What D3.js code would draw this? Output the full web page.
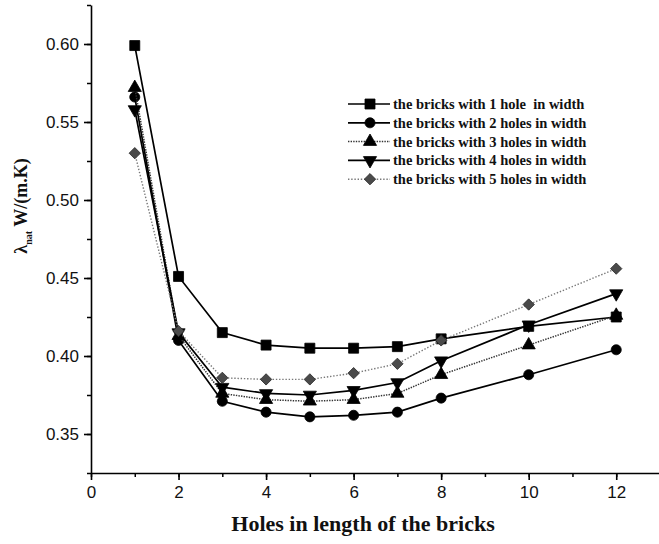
<!DOCTYPE html>
<html>
<head>
<meta charset="utf-8">
<script src="https://cdn.jsdelivr.net/npm/d3@7/dist/d3.min.js"></script>
<style>
  html, body { margin: 0; padding: 0; background: #fff; }
  svg { display: block; }
  .tick text { font-family: "Liberation Sans", Arial, sans-serif; }
</style>
</head>
<body>
<svg id="chart" width="659" height="544"></svg>
<script>
// Holes along the brick length (x axis)
const holesLength = [1, 2, 3, 4, 5, 6, 7, 8, 10, 12];

// Thermal conductivity λ_nat, W/(m.K), one array per number of holes in width
const oneHole   = [0.599, 0.451, 0.415, 0.407, 0.405, 0.405, 0.406, 0.411, 0.419, 0.425];
const twoHoles  = [0.566, 0.410, 0.371, 0.364, 0.361, 0.362, 0.364, 0.373, 0.388, 0.404];
const threeHoles= [0.572, 0.413, 0.376, 0.372, 0.371, 0.372, 0.376, 0.388, 0.407, 0.426];
const fourHoles = [0.558, 0.415, 0.380, 0.376, 0.375, 0.378, 0.383, 0.397, 0.420, 0.440];
const fiveHoles = [0.530, 0.416, 0.386, 0.385, 0.385, 0.389, 0.395, 0.410, 0.433, 0.456];

const seriesNames = [
  "the bricks with 1 hole  in width",
  "the bricks with 2 holes in width",
  "the bricks with 3 holes in width",
  "the bricks with 4 holes in width",
  "the bricks with 5 holes in width"
];

const xTicks = [0, 2, 4, 6, 8, 10, 12];
const yTicks = [0.35, 0.40, 0.45, 0.50, 0.55, 0.60];

const svg = d3.select("#chart");

const x = d3.scaleLinear().domain([0, 13]).range([91, 660]);
const y = d3.scaleLinear().domain([0.325, 0.625]).range([473, 5]);

// Marker and line styling per series
const styles = [
  { symbol: d3.symbolSquare,   size: 100, rotate: 0,   fill: "#000", stroke: "#000", line: "#000", width: 1.7, dash: null },
  { symbol: d3.symbolCircle,   size: 80,  rotate: 0,   fill: "#000", stroke: "#000", line: "#000", width: 1.7, dash: null },
  { symbol: d3.symbolTriangle, size: 75,  rotate: 0,   fill: "#000", stroke: "#000", line: "#333", width: 1.5, dash: "1.4,1.2" },
  { symbol: d3.symbolTriangle, size: 75,  rotate: 180, fill: "#000", stroke: "#000", line: "#000", width: 1.7, dash: null },
  { symbol: d3.symbolSquare,   size: 64,  rotate: 45,  fill: "#4a4a4a", stroke: "#2a2a2a", line: "#777", width: 1.4, dash: "1.4,1.8" }
];

const allSeries = [oneHole, twoHoles, threeHoles, fourHoles, fiveHoles];

// Minor ticks first, then major ticks with labels
const xMinor = d3.range(0, 14, 1);
const yMinor = d3.range(0.325, 0.6251, 0.025);

svg.append("g")
  .attr("transform", `translate(0,${y.range()[0]})`)
  .call(d3.axisBottom(x).tickValues(xMinor).tickSize(4).tickFormat(""))
  .call(g => g.select(".domain").remove())
  .call(g => g.selectAll("line").attr("stroke", "#000").attr("stroke-width", 1.5));

svg.append("g")
  .attr("transform", `translate(${x(0)},0)`)
  .call(d3.axisLeft(y).tickValues(yMinor).tickSize(4).tickFormat(""))
  .call(g => g.select(".domain").remove())
  .call(g => g.selectAll("line").attr("stroke", "#000").attr("stroke-width", 1.5));

const xAxis = svg.append("g")
  .attr("transform", `translate(0,${y.range()[0]})`)
  .call(d3.axisBottom(x).tickValues(xTicks).tickSize(7).tickPadding(6).tickFormat(d3.format("d")).tickSizeOuter(0));
xAxis.select(".domain").attr("stroke", "#000").attr("stroke-width", 1.6);
xAxis.selectAll("line").attr("stroke", "#000").attr("stroke-width", 1.6);
xAxis.selectAll("text").attr("font-size", 17).attr("fill", "#111");

const yAxis = svg.append("g")
  .attr("transform", `translate(${x(0)},0)`)
  .call(d3.axisLeft(y).tickValues(yTicks).tickSize(7).tickPadding(5).tickFormat(d3.format(".2f")).tickSizeOuter(0));
yAxis.select(".domain").attr("stroke", "#000").attr("stroke-width", 1.6);
yAxis.selectAll("line").attr("stroke", "#000").attr("stroke-width", 1.6);
yAxis.selectAll("text").attr("font-size", 17).attr("fill", "#111");

// Axis titles
svg.append("text")
  .attr("x", 363).attr("y", 531)
  .attr("text-anchor", "middle")
  .attr("font-family", "'Liberation Serif', 'Times New Roman', serif")
  .attr("font-weight", "bold")
  .attr("font-size", 22)
  .attr("fill", "#111")
  .text("Holes in length of the bricks");

const yTitle = svg.append("text")
  .attr("transform", "translate(27,206) rotate(-90)")
  .attr("text-anchor", "middle")
  .attr("font-family", "'Liberation Serif', 'Times New Roman', serif")
  .attr("font-weight", "bold")
  .attr("font-size", 18)
  .attr("fill", "#111");
yTitle.append("tspan").text("λ");
yTitle.append("tspan").attr("font-size", 10).attr("dy", 5).text("nat");
yTitle.append("tspan").attr("dy", -5).text(" W/(m.K)");

// Series lines and markers
const line = d3.line().x((d, i) => x(holesLength[i])).y(d => y(d));

function marker(sel, st) {
  sel.attr("d", d3.symbol().type(st.symbol).size(st.size)())
    .attr("fill", st.fill)
    .attr("stroke", st.stroke)
    .attr("stroke-width", 0.8);
}

allSeries.forEach((vals, k) => {
  const st = styles[k];
  const g = svg.append("g");
  g.append("path")
    .attr("d", line(vals))
    .attr("fill", "none")
    .attr("stroke", st.line)
    .attr("stroke-width", st.width)
    .attr("stroke-dasharray", st.dash);
  g.selectAll("path.pt")
    .data(vals)
    .join("path")
    .attr("class", "pt")
    .attr("transform", (d, i) => `translate(${x(holesLength[i])},${y(d)}) rotate(${st.rotate})`)
    .call(marker, st);
});

// Legend
const legend = svg.append("g").attr("transform", "translate(348,104)");
seriesNames.forEach((name, k) => {
  const st = styles[k];
  const row = legend.append("g").attr("transform", `translate(0,${k * 18.8})`);
  row.append("line")
    .attr("x1", 0).attr("x2", 42).attr("y1", 0).attr("y2", 0)
    .attr("stroke", st.line)
    .attr("stroke-width", st.width)
    .attr("stroke-dasharray", st.dash);
  row.append("path")
    .attr("transform", `translate(22,0) rotate(${st.rotate})`)
    .call(marker, st);
  row.append("text")
    .attr("x", 45).attr("y", 5)
    .attr("font-family", "'Liberation Serif', 'Times New Roman', serif")
    .attr("font-weight", "bold")
    .attr("font-size", 14.5)
    .attr("fill", "#111")
    .attr("xml:space", "preserve")
    .style("white-space", "pre")
    .text(name);
});
</script>
</body>
</html>
